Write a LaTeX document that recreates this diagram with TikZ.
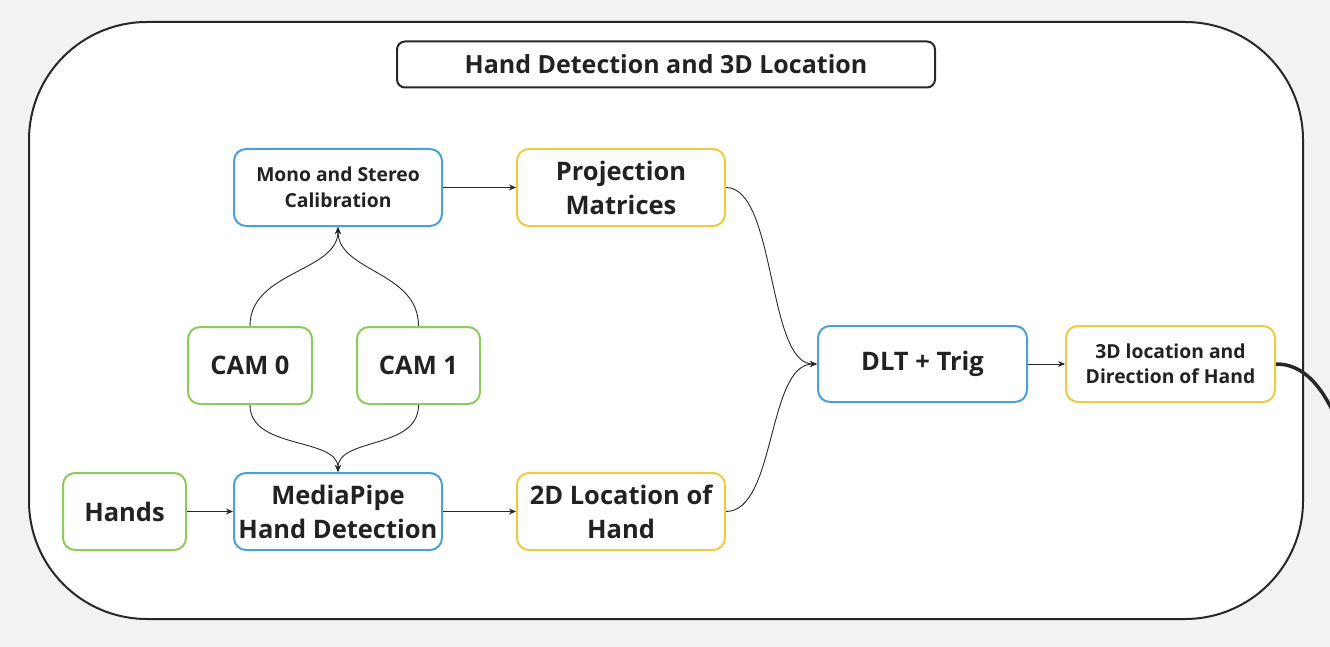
\documentclass[tikz,border=0pt]{standalone}
\usepackage{fontspec}
\setmainfont{Open Sans}
\usetikzlibrary{arrows.meta}
\definecolor{bgc}{RGB}{242,242,242}
\definecolor{bluec}{RGB}{74,160,220}
\definecolor{greenc}{RGB}{143,202,92}
\definecolor{yellowc}{RGB}{240,202,64}
\definecolor{txt}{RGB}{34,34,34}
\definecolor{linec}{RGB}{40,40,40}
\tikzset{
  box/.style={draw, line width=2pt, rounded corners=12pt, fill=white, align=center, inner sep=0pt, text=txt, font=\bfseries\fontsize{25.5}{34}\selectfont},
  bluebox/.style={box, draw=bluec},
  greenbox/.style={box, draw=greenc},
  yellowbox/.style={box, draw=yellowc},
  smalltext/.style={font=\bfseries\fontsize{19.3}{25.5}\selectfont},
  conn/.style={draw=linec, line width=0.9pt, -{Stealth[length=7pt,width=6pt]}},
}
\begin{document}
\begin{tikzpicture}[x=1pt,y=-1pt]
\useasboundingbox (0,0) rectangle (1330,647);
\fill[bgc] (0,0) rectangle (1330,647);
\draw[line width=2pt, fill=white, rounded corners=118pt, draw=linec] (29,22) rectangle (1303,619);
\node[box, draw=linec, minimum width=538pt, minimum height=46pt, rounded corners=8pt, font=\bfseries\fontsize{25}{30}\selectfont] (title) at (666,64.5) {Hand Detection and 3D Location};
\node[bluebox, smalltext, minimum width=208pt, minimum height=77pt] (calib) at (338,187.5) {Mono and Stereo\\Calibration};
\node[yellowbox, minimum width=208pt, minimum height=77pt] (proj) at (621,187.5) {Projection\\Matrices};
\node[greenbox, minimum width=124pt, minimum height=77pt] (cam0) at (250,365.5) {CAM 0};
\node[greenbox, minimum width=123pt, minimum height=77pt] (cam1) at (418.5,365.5) {CAM 1};
\node[greenbox, minimum width=123pt, minimum height=77pt] (hands) at (124.5,511.5) {Hands};
\node[bluebox, minimum width=208pt, minimum height=77pt] (mp) at (338,511.5) {MediaPipe\\Hand Detection};
\node[yellowbox, minimum width=208pt, minimum height=77pt] (loc2d) at (621,511.5) {2D Location of\\Hand};
\node[bluebox, minimum width=209pt, minimum height=76pt] (dlt) at (922.5,364) {DLT + Trig};
\node[yellowbox, smalltext, minimum width=209pt, minimum height=76pt] (loc3d) at (1170.5,364) {3D location and\\Direction of Hand};
\coordinate (exit) at (1345,440);
% connectors
\draw[conn] (calib.east) -- (proj.west);
\draw[conn] (hands.east) -- (mp.west);
\draw[conn] (mp.east) -- (loc2d.west);
\draw[conn] (dlt.east) -- (loc3d.west);
\draw[conn] (cam0.north) .. controls +(0,-55) and +(0,45) .. (calib.south);
\draw[conn] (cam1.north) .. controls +(0,-55) and +(0,45) .. (calib.south);
\draw[conn] (cam0.south) .. controls +(0,45) and +(0,-35) .. (mp.north);
\draw[conn] (cam1.south) .. controls +(0,45) and +(0,-35) .. (mp.north);
\draw[conn] (proj.east) .. controls +(50,0) and +(-50,0) .. (dlt.west);
\draw[conn] (loc2d.east) .. controls +(50,0) and +(-50,0) .. (dlt.west);
\draw[linec, line width=3.5pt] (loc3d.east) .. controls +(35,0) and +(-15,-40) .. (exit);
\end{tikzpicture}
\end{document}
